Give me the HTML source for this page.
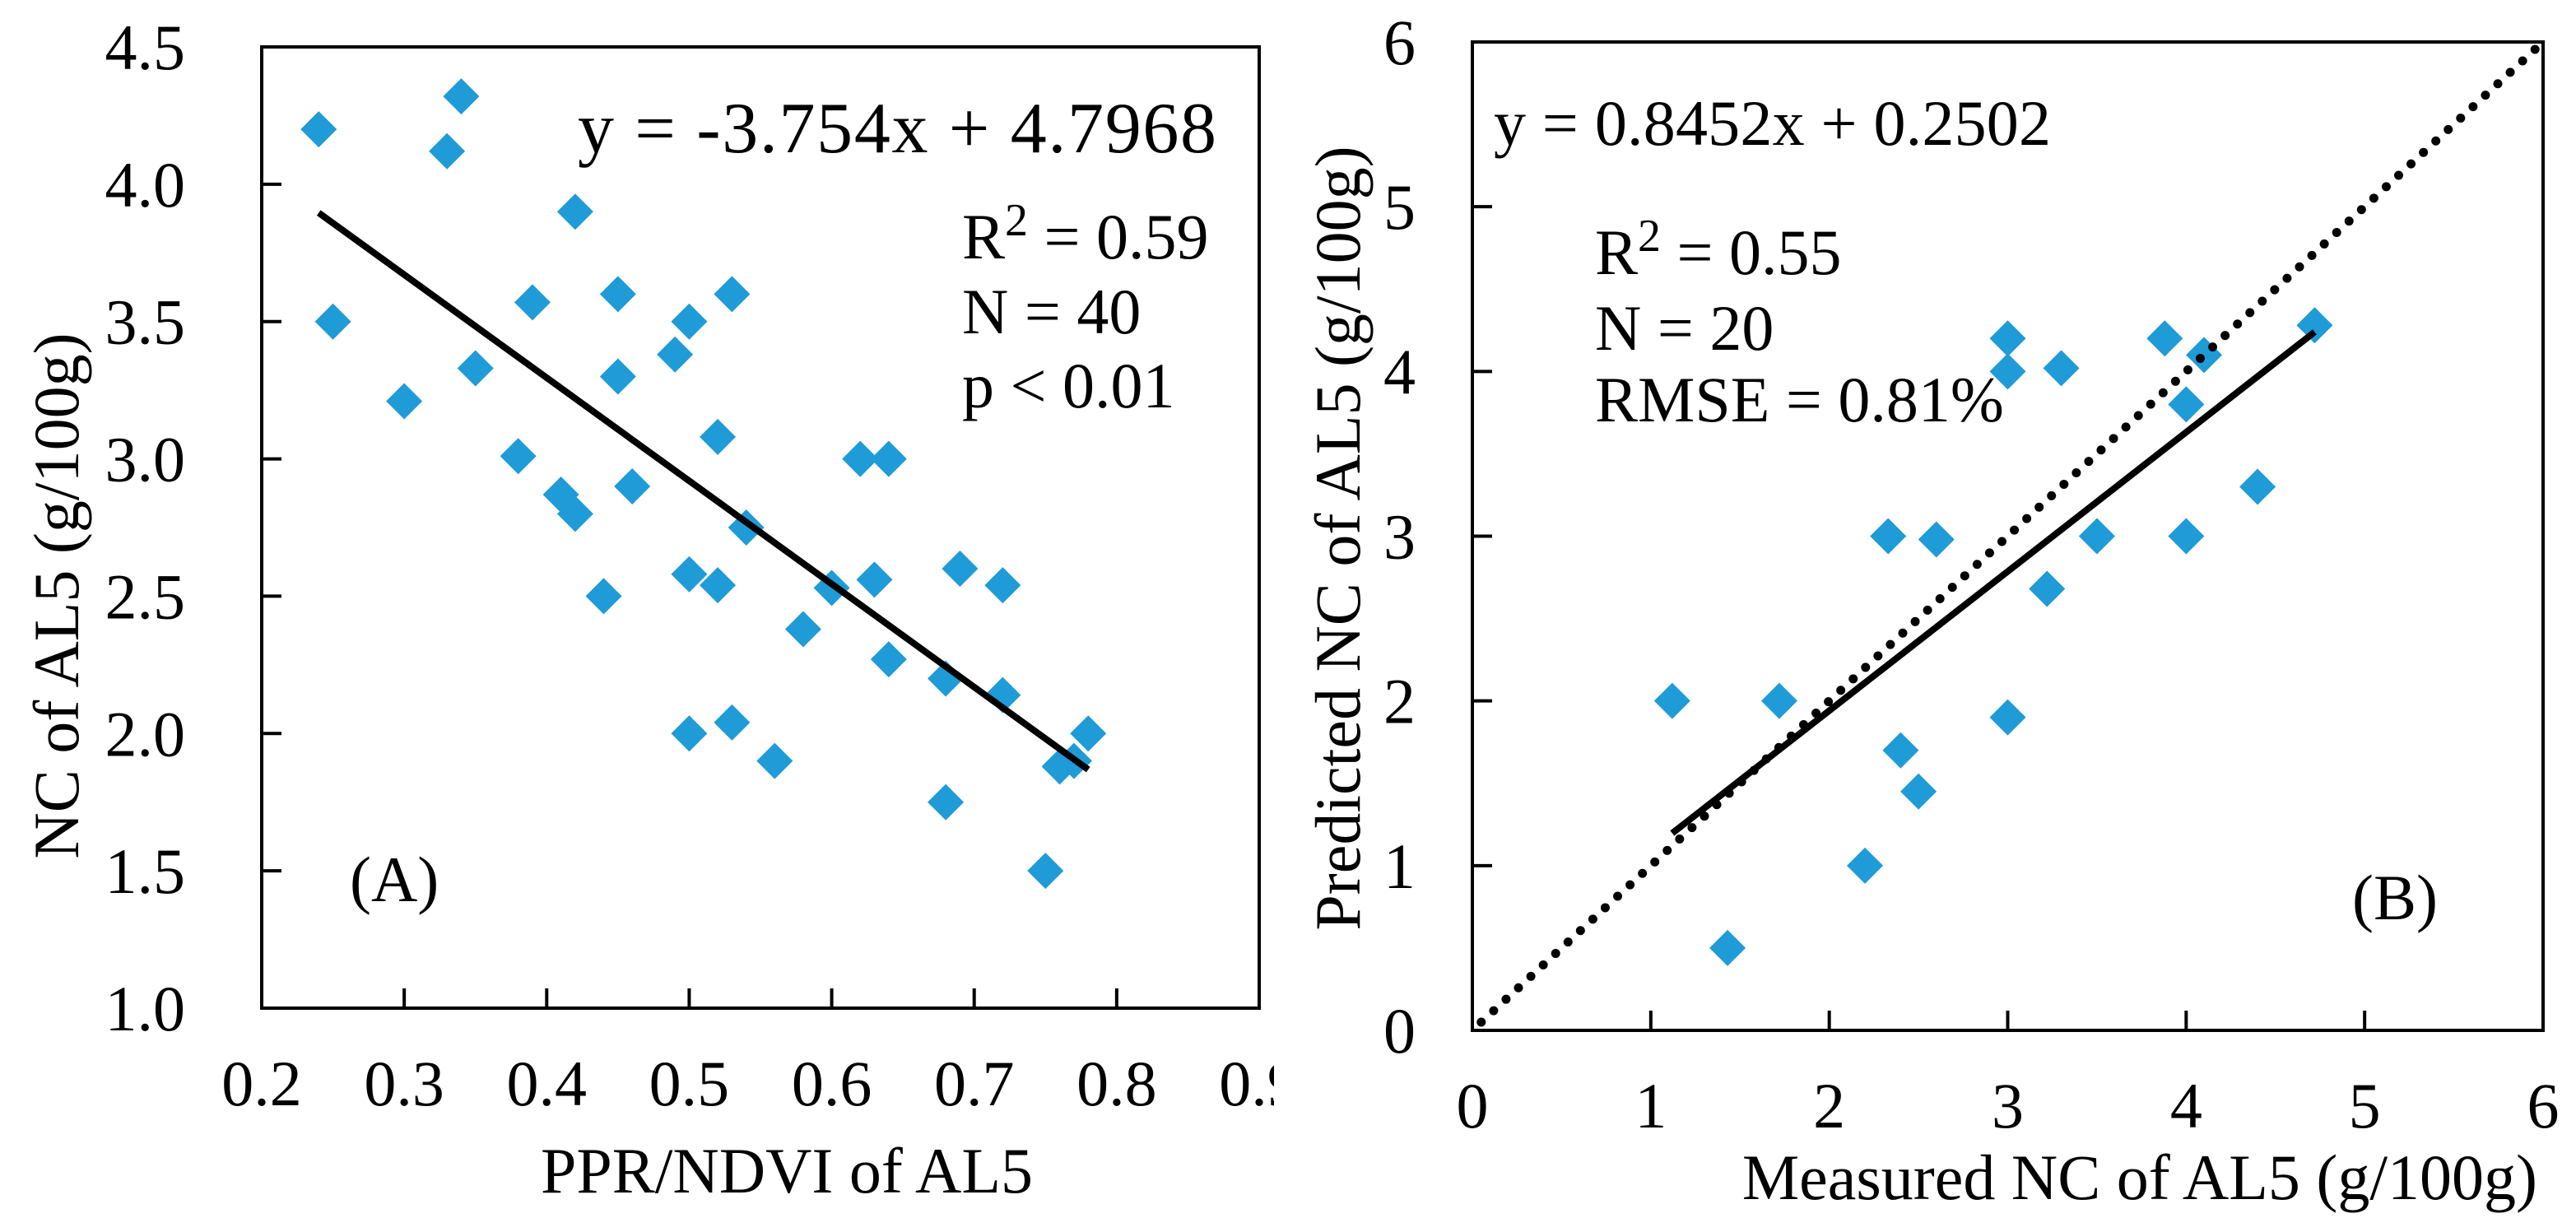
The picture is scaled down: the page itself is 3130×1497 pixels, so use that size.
<!DOCTYPE html>
<html><head><meta charset="utf-8"><style>
html,body{margin:0;padding:0;background:#fff;}
svg text{font-family:"Liberation Serif",serif;fill:#000;}
</style></head><body>
<svg id="fig" width="3130" height="1492" viewBox="0 0 3130 1492" xmlns="http://www.w3.org/2000/svg">
<defs><clipPath id="clipA"><rect x="0" y="0" width="1548" height="1492"/></clipPath></defs>
<g id="pa" clip-path="url(#clipA)"></g>
<g id="pb"></g>
</svg>
<script>
const aX = [0.24,0.25,0.30,0.33,0.34,0.35,0.38,0.39,0.41,0.42,0.42,0.44,0.45,0.45,0.46,0.49,0.50,0.50,0.50,0.52,0.52,0.53,0.53,0.54,0.56,0.58,0.60,0.62,0.63,0.64,0.64,0.68,0.68,0.69,0.72,0.72,0.75,0.76,0.77,0.78];
const aY = [4.20,3.50,3.21,4.12,4.32,3.33,3.01,3.57,2.87,2.80,3.90,2.50,3.60,3.30,2.90,3.38,3.50,2.58,2.00,3.08,2.54,3.60,2.04,2.75,1.90,2.38,2.53,3.00,2.56,3.00,2.27,2.20,1.75,2.60,2.54,2.14,1.50,1.88,1.90,2.00];
const aXTicks = ["0.2","0.3","0.4","0.5","0.6","0.7","0.8","0.9"];
const aYTicks = ["1.0","1.5","2.0","2.5","3.0","3.5","4.0","4.5"];
const aFit = [-3.754, 4.7968];
const bX = [1.12,1.43,1.72,2.20,2.33,2.40,2.50,2.60,3.00,3.00,3.00,3.22,3.30,3.50,3.88,4.00,4.00,4.10,4.40,4.72];
const bY = [2.00,0.50,2.00,1.00,3.00,1.70,1.45,2.98,4.20,4.00,1.90,2.68,4.02,3.00,4.20,3.80,3.00,4.10,3.30,4.28];
const bXTicks = ["0","1","2","3","4","5","6"];
const bYTicks = ["0","1","2","3","4","5","6"];
const bFit = [0.8452, 0.2502];

const NS = "http://www.w3.org/2000/svg";
function mk(parent, tag, attrs, txt){
  const e = document.createElementNS(NS, tag);
  for (const k in attrs) e.setAttribute(k, attrs[k]);
  if (txt !== undefined) e.textContent = txt;
  parent.appendChild(e);
  return e;
}
const BLUE = "#1f9bd7";

function panel(g, o){
  const sx = v => o.L + (v - o.x0) / (o.x1 - o.x0) * (o.R - o.L);
  const sy = v => o.B - (v - o.y0) / (o.y1 - o.y0) * (o.B - o.T);
  o.xt.forEach((t, i) => {
    const v = parseFloat(t), x = sx(v);
    if (i > 0 && i < o.xt.length - 1) {
      const tk = mk(g, "line", {x1:x, y1:o.B, x2:x, y2:o.B-24, stroke:"#000", "stroke-width":4});
      
      
    }
    const lb = mk(g, "text", {x:x, y:o.xlY, "font-size":78, "text-anchor":"middle"}, t);
    
    
  });
  o.yt.forEach((t, i) => {
    const v = parseFloat(t), y = sy(v);
    if (i > 0 && i < o.yt.length - 1) {
      const tk = mk(g, "line", {x1:o.L, y1:y, x2:o.L+24, y2:y, stroke:"#000", "stroke-width":4});
      
      
    }
    const lb = mk(g, "text", {x:o.ylX, y:y+27, "font-size":78, "text-anchor":"end"}, t);
    
    
  });
  o.px.forEach((v, i) => {
    const cx = sx(v), cy = sy(o.py[i]), r = 22;
    const p = mk(g, "polygon", {points:`${cx},${cy-r} ${cx+r},${cy} ${cx},${cy+r} ${cx-r},${cy}`, fill:BLUE});
    
    
  });
  if (o.oneToOne) {
    const d = mk(g, "line", {x1:sx(0.05), y1:sy(0.05), x2:sx(6), y2:sy(6), stroke:"#000", "stroke-width":11, "stroke-linecap":"round", "stroke-dasharray":"0 20.5"});
    
    
  }
  const xs = Math.min(...o.px), xe = Math.max(...o.px);
  const f = mk(g, "line", {x1:sx(xs), y1:sy(o.fit[0]*xs+o.fit[1]), x2:sx(xe), y2:sy(o.fit[0]*xe+o.fit[1]), stroke:"#000", "stroke-width":8});
  
  
  const fr = mk(g, "rect", {x:o.L, y:o.T, width:o.R-o.L, height:o.B-o.T, fill:"none", stroke:"#000", "stroke-width":4});
  
  
}

const ga = document.getElementById("pa");
panel(ga, {L:318, R:1530, T:57, B:1225, x0:0.2, x1:0.9, y0:1.0, y1:4.5, xt:aXTicks, yt:aYTicks, px:aX, py:aY, fit:aFit, xlY:1343, ylX:225});
const gb = document.getElementById("pb");
panel(gb, {L:1789, R:3090, T:51, B:1252, x0:0, x1:6, y0:0, y1:6, xt:bXTicks, yt:bYTicks, px:bX, py:bY, fit:bFit, xlY:1370, ylX:1720, oneToOne:true});
</script>
<script>
const fig = document.getElementById("fig");
function txt(attrs, content, name){
  const e = document.createElementNS(NS, "text");
  for (const k in attrs) e.setAttribute(k, attrs[k]);
  e.innerHTML = content;
  
  
  fig.appendChild(e);
}
txt({x:702, y:185, "font-size":88, textLength:776, lengthAdjust:"spacing"}, "y = -3.754x + 4.7968", "equation-a");
txt({x:1169, y:314, "font-size":78}, 'R<tspan font-size="56" dy="-28">2</tspan><tspan dy="28"> = 0.59</tspan>', "r2-a");
txt({x:1169, y:405, "font-size":78}, "N = 40", "n-a");
txt({x:1169, y:495, "font-size":78}, "p &lt; 0.01", "p-a");
txt({x:425, y:1095, "font-size":78}, "(A)", "panel-label-a");
txt({x:956, y:1449, "font-size":78, "text-anchor":"middle"}, "PPR/NDVI of AL5", "x-axis-title-a");
txt({x:0, y:0, "font-size":78, "text-anchor":"middle", transform:"translate(95,724) rotate(-90)"}, "NC of AL5 (g/100g)", "y-axis-title-a");
txt({x:1815, y:176, "font-size":78, textLength:677, lengthAdjust:"spacing"}, "y = 0.8452x + 0.2502", "equation-b");
txt({x:1938, y:333, "font-size":78}, 'R<tspan font-size="56" dy="-28">2</tspan><tspan dy="28"> = 0.55</tspan>', "r2-b");
txt({x:1938, y:425, "font-size":78}, "N = 20", "n-b");
txt({x:1938, y:512, "font-size":78}, "RMSE = 0.81%", "rmse-b");
txt({x:2858, y:1117, "font-size":78}, "(B)", "panel-label-b");
txt({x:3083, y:1457, "font-size":78, "text-anchor":"end"}, "Measured NC of AL5 (g/100g)", "x-axis-title-b");
txt({x:0, y:0, "font-size":78, "text-anchor":"middle", transform:"translate(1652,654) rotate(-90)"}, "Predicted NC of AL5 (g/100g)", "y-axis-title-b");
</script>
</body></html>
